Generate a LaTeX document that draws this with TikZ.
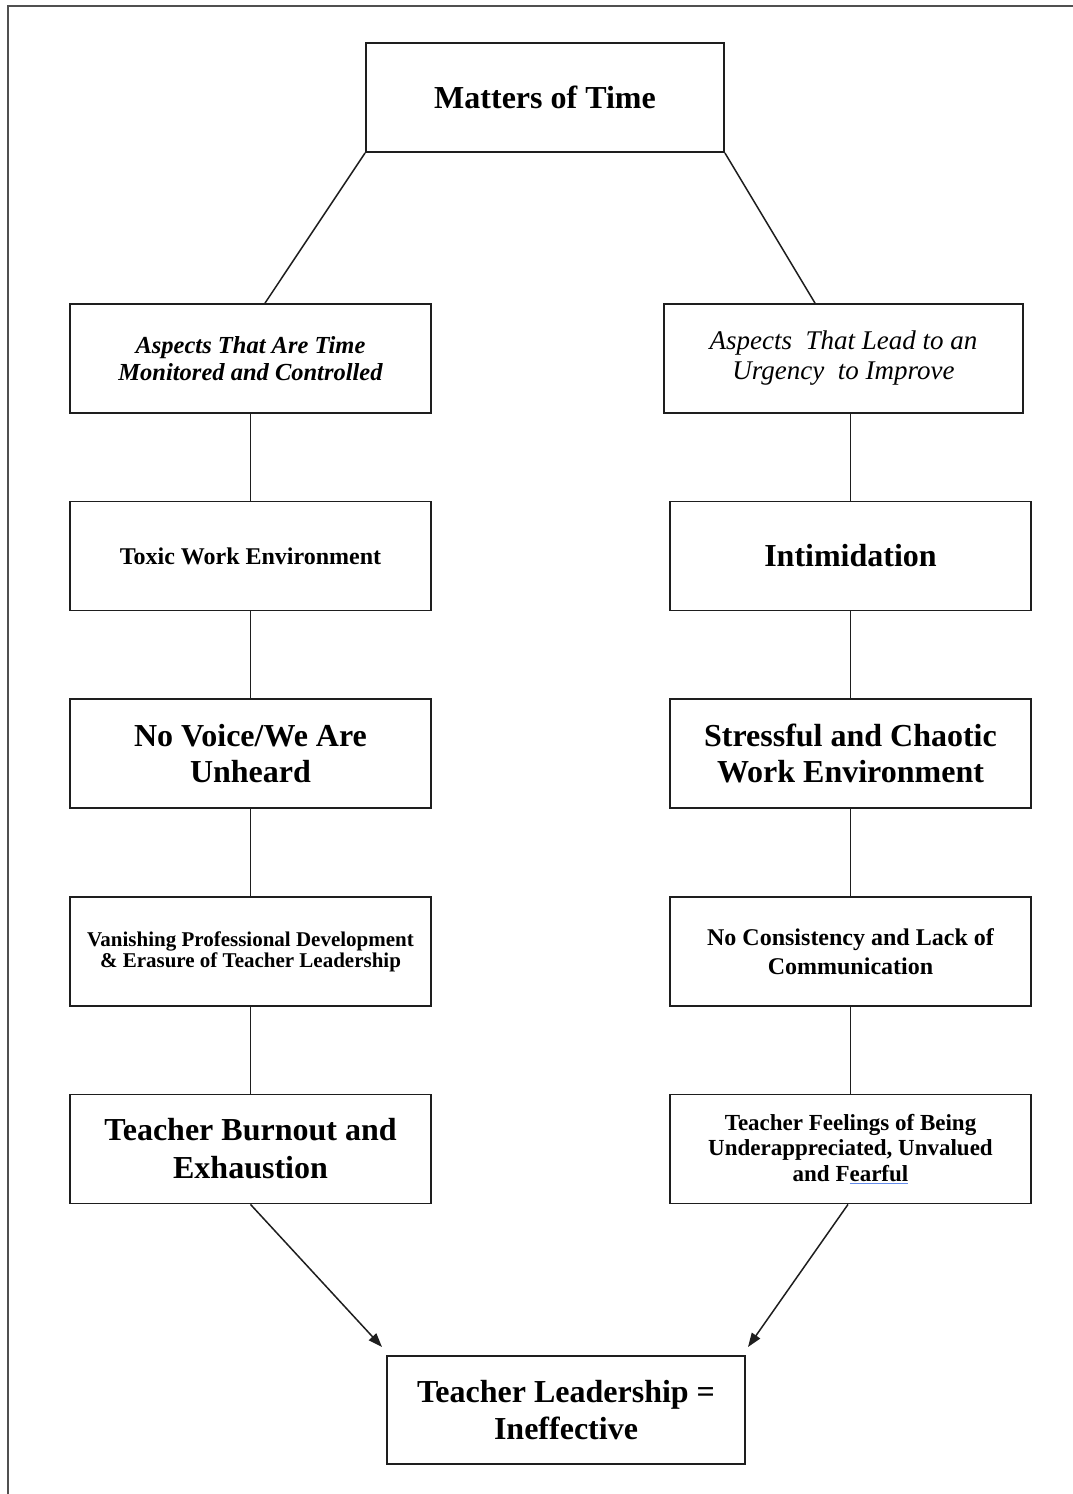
\documentclass[tikz,border=0pt]{standalone}
\usepackage{fontspec}
\setmainfont{Liberation Serif}
\usetikzlibrary{arrows.meta,calc}
\definecolor{boxline}{RGB}{30,30,30}
\definecolor{framegray}{RGB}{80,80,80}
\definecolor{spellblue}{RGB}{100,140,235}
\newcommand\bluul[1]{\setbox0\hbox{#1}\rlap{\textcolor{spellblue}{\rule[-3pt]{\wd0}{0.8pt}}}\box0}
\tikzset{
  box/.style={draw=boxline, line width=1.8pt, rectangle, inner sep=0pt, align=center,
              minimum height=109pt, text=black},
  lbox/.style={box, minimum width=361pt},
  bigb/.style={font=\fontsize{32}{37}\selectfont\bfseries},
  conn/.style={draw=boxline, line width=1.5pt},
  arr/.style={conn, -{Triangle[length=14pt,width=10pt]}},
}
\begin{document}
\begin{tikzpicture}[x=1pt,y=-1pt]
\useasboundingbox (0,0) rectangle (1073,1494);
\draw[framegray, line width=2pt] (7.5,1494) -- (7.5,5.5) -- (1073,5.5);

\node[box, minimum width=358pt, bigb] (top) at (545,97.5) {Matters of Time};

\node[lbox, font=\fontsize{24.5}{27.6}\selectfont\bfseries\itshape] (L1) at (250.5,358.5)
  {Aspects That Are Time\\Monitored and Controlled};
\node[lbox, font=\fontsize{24}{28}\selectfont\bfseries] (L2) at (250.5,556)
  {Toxic Work Environment};
\node[lbox, font=\fontsize{32}{36}\selectfont\bfseries] (L3) at (250.5,753.5)
  {No Voice/We Are\\Unheard};
\node[lbox, font=\fontsize{21}{21}\selectfont\bfseries] (L4) at (250.5,951.5)
  {Vanishing Professional Development\\\& Erasure of Teacher Leadership};
\node[lbox, font=\fontsize{32}{38}\selectfont\bfseries] (L5) at (250.5,1149)
  {Teacher Burnout and\\Exhaustion};

\node[box, minimum width=359pt, font=\fontsize{27}{30}\selectfont\itshape] (R1) at (843.5,358.5)
  {Aspects~ That Lead to an\\Urgency~ to Improve};
\node[lbox, bigb] (R2) at (850.5,556) {Intimidation};
\node[lbox, font=\fontsize{32}{35.5}\selectfont\bfseries] (R3) at (850.5,753.5)
  {Stressful and Chaotic\\Work Environment};
\node[lbox, font=\fontsize{24}{29}\selectfont\bfseries] (R4) at (850.5,951.5)
  {No Consistency and Lack of\\Communication};
\node[lbox, font=\fontsize{23}{25.5}\selectfont\bfseries] (R5) at (850.5,1149)
  {Teacher Feelings of Being\\Underappreciated, Unvalued\\and F\bluul{earful}};

\node[box, minimum width=358pt, minimum height=108pt, font=\fontsize{32}{36.5}\selectfont\bfseries] (bot) at (566,1410)
  {Teacher Leadership =\\Ineffective};

\coordinate (tipL) at (382,1347);
\coordinate (tipR) at (748,1347);

\draw[conn] (top.south west) -- ($(L1.north)+(14.5,0)$);
\draw[conn] (top.south east) -- ($(R1.north)+(-28.5,0)$);

\draw[conn] (L1.south) -- (L2.north);
\draw[conn] (L2.south) -- (L3.north);
\draw[conn] (L3.south) -- (L4.north);
\draw[conn] (L4.south) -- (L5.north);

\draw[conn] (R2.north |- R1.south) -- (R2.north);
\draw[conn] (R2.south) -- (R3.north);
\draw[conn] (R3.south) -- (R4.north);
\draw[conn] (R4.south) -- (R5.north);

\draw[arr] (L5.south) -- (tipL);
\draw[arr] ($(R5.south)+(-2.5,0)$) -- (tipR);
\end{tikzpicture}
\end{document}
